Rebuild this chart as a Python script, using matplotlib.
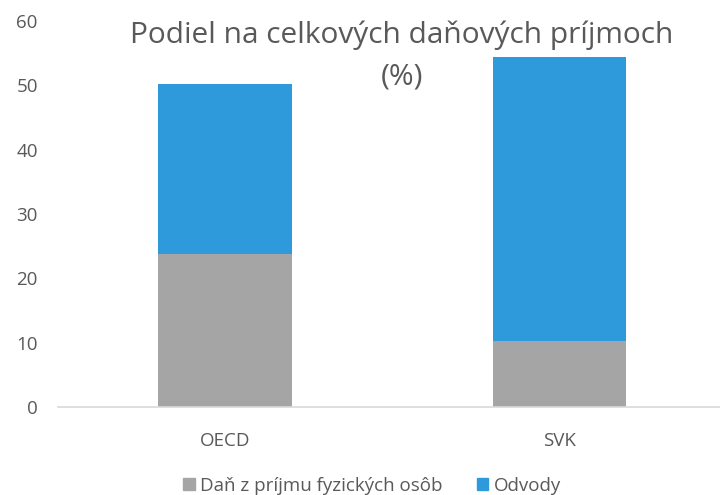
import matplotlib
matplotlib.use("Agg")
import matplotlib.pyplot as plt
from matplotlib.patches import Patch

# data
categories = ["OECD", "SVK"]
dan_fo = [23.8, 10.2]
odvody = [26.4, 44.2]
y_ticks = [0, 10, 20, 30, 40, 50, 60]

gray = "#A5A5A5"
blue = "#2E9ADB"
text_col = "#595959"

plt.rcParams["font.family"] = ["Open Sans", "DejaVu Sans"]

fig = plt.figure(figsize=(7.2, 4.95), dpi=100)
ax = fig.add_axes([58 / 720, 1 - 407 / 495, 1 - 58 / 720, (407 - 21) / 495])

x = list(range(len(categories)))
ax.bar(x, dan_fo, width=0.4, color=gray, label="Daň z príjmu fyzických osôb")
ax.bar(x, odvody, width=0.4, bottom=dan_fo, color=blue, label="Odvody")

ax.set_xlim(-0.5, 1.48)
ax.set_ylim(0, 60)
ax.set_yticks(y_ticks)
ax.set_xticks(x)
ax.set_xticklabels(categories)
ax.tick_params(axis="both", length=0, colors=text_col, labelsize=13.5)
ax.tick_params(axis="y", pad=14.5)
ax.tick_params(axis="x", pad=18)

for s in ["top", "right", "left"]:
    ax.spines[s].set_visible(False)
ax.spines["bottom"].set_color("#D9D9D9")
ax.spines["bottom"].set_linewidth(1.2)

fig.text(402 / 720, 1 - 35 / 495, "Podiel na celkových daňových príjmoch",
         ha="center", va="center", fontsize=21.5, color=text_col)
fig.text(402 / 720, 1 - 77 / 495, "(%)",
         ha="center", va="center", fontsize=21.5, color=text_col)

handles = [Patch(color=gray), Patch(color=blue)]
fig.legend(handles, ["Daň z príjmu fyzických osôb", "Odvody"],
           loc="center", bbox_to_anchor=(372 / 720, 1 - 486 / 495),
           ncol=2, frameon=False, fontsize=13.5, labelcolor=text_col,
           handlelength=0.6, handleheight=0.6, handletextpad=0.3,
           columnspacing=1.8)

fig.savefig("out.png", dpi=100)
